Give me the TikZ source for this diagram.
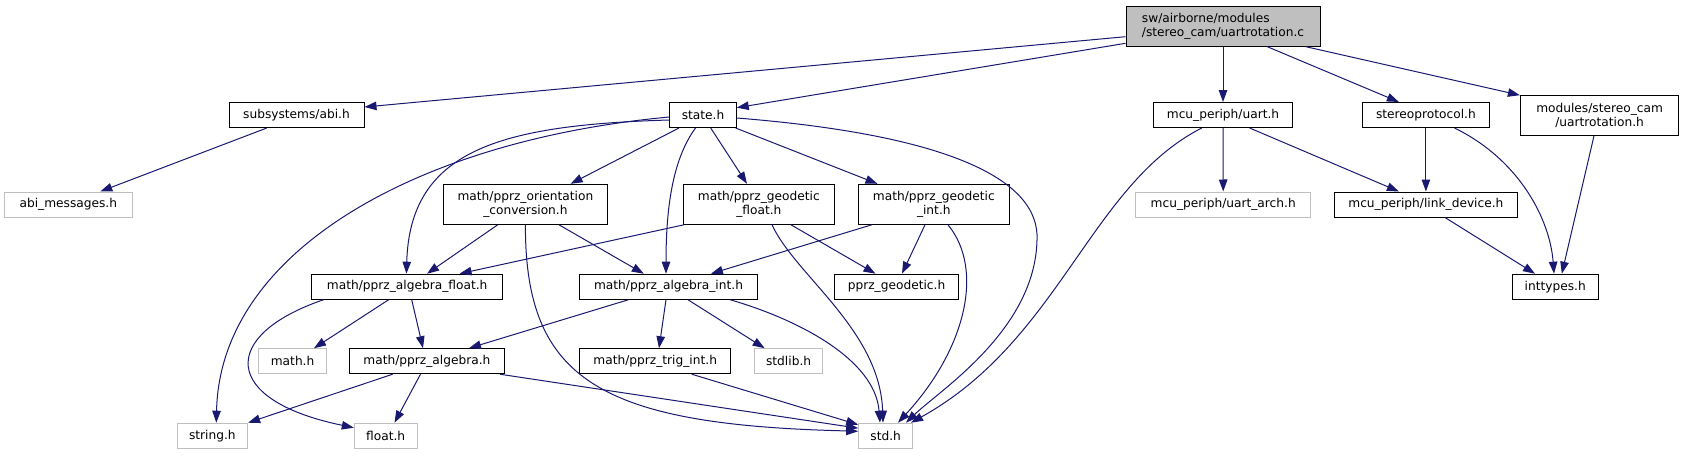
\documentclass[tikz,border=0pt]{standalone}
\usepackage{fontspec}
\setmainfont{DejaVu Sans}
\usetikzlibrary{arrows.meta}
\definecolor{edgec}{HTML}{191970}
\definecolor{grayb}{HTML}{BFBFBF}
\begin{document}
\begin{tikzpicture}[x=1pt,y=-1pt,
  nd/.style={draw=black, line width=1pt, inner sep=0pt, font=\fontsize{12.2}{14}\selectfont, align=center, minimum height=25pt},
  ng/.style={nd, draw=grayb},
  e/.style={draw=edgec, line width=1pt, -{Triangle[length=12pt,width=8.5pt]}}]
\useasboundingbox (0,0) rectangle (1683,455);
% nodes
\node[nd, fill=grayb, align=left, minimum width=194pt, minimum height=40pt] (main) at (1223,26) {sw/airborne/modules\\/stereo\_cam/uartrotation.c};
\node[nd, minimum width=135pt] (abi) at (296.5,115) {subsystems/abi.h};
\node[ng, minimum width=127.4pt] (abimsg) at (68.3,204.5) {abi\_messages.h};
\node[nd, minimum width=66.5pt] (state) at (703,115) {state.h};
\node[nd, minimum width=139.3pt] (uart) at (1223,115) {mcu\_periph/uart.h};
\node[nd, minimum width=127pt] (stereo) at (1425.9,115) {stereoprotocol.h};
\node[nd, minimum width=158.4pt, minimum height=39.6pt] (modrot) at (1599.6,115.5) {modules/stereo\_cam\\/uartrotation.h};
\node[nd, minimum width=164.8pt, minimum height=40pt] (orient) at (525.4,204.3) {math/pprz\_orientation\\\_conversion.h};
\node[nd, minimum width=150.8pt, minimum height=40pt] (geof) at (758.9,204.3) {math/pprz\_geodetic\\\_float.h};
\node[nd, minimum width=150.8pt, minimum height=40pt] (geoi) at (933.8,204.3) {math/pprz\_geodetic\\\_int.h};
\node[ng, minimum width=175pt] (uartarch) at (1223.2,204.5) {mcu\_periph/uart\_arch.h};
\node[nd, minimum width=183pt] (link) at (1425.9,204.5) {mcu\_periph/link\_device.h};
\node[nd, minimum width=190.5pt] (alf) at (407.2,286.7) {math/pprz\_algebra\_float.h};
\node[nd, minimum width=178.7pt] (ali) at (668.5,286.7) {math/pprz\_algebra\_int.h};
\node[nd, minimum width=124.4pt] (geod) at (896.5,286.7) {pprz\_geodetic.h};
\node[nd, minimum width=85.7pt] (intt) at (1555.2,286.7) {inttypes.h};
\node[ng, minimum width=67.7pt] (mathh) at (292.6,361.2) {math.h};
\node[nd, minimum width=155pt] (alg) at (426.9,361.2) {math/pprz\_algebra.h};
\node[nd, minimum width=150.8pt] (trig) at (655.2,361.2) {math/pprz\_trig\_int.h};
\node[ng, minimum width=67.7pt] (stdlib) at (788.6,361.2) {stdlib.h};
\node[ng, minimum width=70.4pt] (strh) at (212.4,435.7) {string.h};
\node[ng, minimum width=62.8pt] (floath) at (385.7,435.7) {float.h};
\node[ng, minimum width=54pt] (stdh) at (885.7,435.7) {std.h};
% edges
\draw[e] ([yshift=-10.7pt]main.west) -- ([yshift=8pt]abi.east);
\draw[e] ([yshift=-17.3pt]main.west) -- ([yshift=7.3pt]state.east);
\draw[e] (main.south) -- (uart.north);
\draw[e] ([xshift=43.8pt]main.south) -- ([xshift=-27pt]stereo.north);
\draw[e] ([xshift=82pt]main.south) -- (modrot.north west);
\draw[e] ([xshift=-29.7pt]abi.south) -- ([xshift=32pt]abimsg.north);
\draw[e] ([yshift=-2pt]state.west) .. controls (420,140) and (220,250) .. ([xshift=3.9pt]strh.north);
\draw[e] ([yshift=-5pt]state.west) .. controls (500,125) and (410,150) .. ([xshift=-0.8pt]alf.north);
\draw[e] ([xshift=-24pt]state.south) -- ([xshift=45.2pt]orient.north);
\draw[e] ([xshift=-7.5pt]state.south) .. controls (672,160) and (666,210) .. ([xshift=-2.5pt]ali.north);
\draw[e] ([xshift=7.7pt]state.south) -- ([xshift=-11.9pt]geof.north);
\draw[e] ([xshift=32.6pt]state.south) -- ([xshift=-56.3pt]geoi.north);
\draw[e] ([yshift=-3pt]state.east) .. controls (950,135) and (1040,180) .. (1037,240) .. controls (1035,330) and (940,390) .. ([xshift=20.3pt]stdh.north);
\draw[e] ([xshift=-27.7pt]orient.south) -- ([xshift=19.8pt]alf.north);
\draw[e] ([xshift=33.6pt]orient.south) -- ([xshift=-24.7pt]ali.north);
\draw[e] (orient.south) .. controls (525,380) and (600,425) .. ([yshift=4.5pt]stdh.west);
\draw[e] ([xshift=-75pt]geof.south) -- ([xshift=52.4pt]alf.north);
\draw[e] ([xshift=32.1pt]geof.south) -- ([xshift=-21pt]geod.north);
\draw[e] ([xshift=13.1pt]geof.south) .. controls (795,275) and (880,330) .. ([xshift=-2.7pt]stdh.north);
\draw[e] ([xshift=-62.1pt]geoi.south) -- ([xshift=42.4pt]ali.north);
\draw[e] ([xshift=-8.8pt]geoi.south) -- ([xshift=5.5pt]geod.north);
\draw[e] ([xshift=14.2pt]geoi.south) .. controls (985,270) and (965,350) .. ([xshift=12.3pt]stdh.north);
\draw[e] ([xshift=-40pt]ali.south) -- ([xshift=42.1pt]alg.north);
\draw[e] ([xshift=-2.5pt]ali.south) -- ([xshift=3.8pt]trig.north);
\draw[e] ([xshift=19.4pt]ali.south) -- ([xshift=-24pt]stdlib.north);
\draw[e] ([xshift=61.5pt]ali.south) .. controls (800,320) and (875,360) .. ([xshift=-5.7pt]stdh.north);
\draw[e] ([xshift=-18.5pt]alf.south) -- ([xshift=21.4pt]mathh.north);
\draw[e] ([xshift=4.5pt]alf.south) -- ([xshift=-3.9pt]alg.north);
\draw[e] ([xshift=-83.6pt]alf.south) .. controls (220,335) and (220,400) .. ([yshift=8pt]floath.west);
\draw[e] ([xshift=-34.3pt]alg.south) -- (strh.north east);
\draw[e] ([xshift=-6.4pt]alg.south) -- ([xshift=8.8pt]floath.north);
\draw[e] ([xshift=72.9pt]alg.south) -- ([yshift=7.5pt]stdh.west);
\draw[e] ([xshift=36.5pt]trig.south) -- ([yshift=11pt]stdh.west);
\draw[e] (uart.south) -- (uartarch.north);
\draw[e] ([xshift=26.6pt]uart.south) -- ([xshift=-27pt]link.north);
\draw[e] ([xshift=-21.3pt]uart.south) .. controls (1090,185) and (1060,340) .. ([xshift=25.3pt]stdh.north);
\draw[e] (stereo.south) -- (link.north);
\draw[e] ([xshift=28.6pt]stereo.south) .. controls (1520,160) and (1550,220) .. ([xshift=-1.2pt]intt.north);
\draw[e] ([xshift=-5.6pt]modrot.south) -- ([xshift=6.6pt]intt.north);
\draw[e] ([xshift=19.1pt]link.south) -- ([xshift=-20.2pt]intt.north);
\end{tikzpicture}
\end{document}
